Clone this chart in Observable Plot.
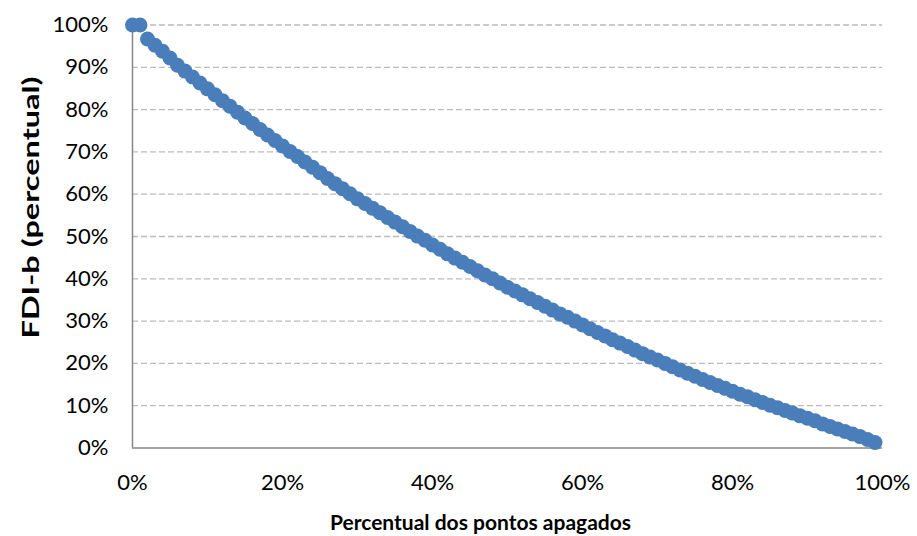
<!DOCTYPE html>
<html><head><meta charset="utf-8">
<script src="https://cdn.jsdelivr.net/npm/d3@7"></script>
<script src="https://cdn.jsdelivr.net/npm/@observablehq/plot@0.6"></script>
<style>body{margin:0;background:#fff}</style>
</head><body><div id="chart"></div>
<script>
// Percentual dos pontos apagados (x, %)
const pontosApagados = [
  0,1,2,3,4,5,6,7,8,9,10,11,12,13,14,15,16,17,18,19,
  20,21,22,23,24,25,26,27,28,29,30,31,32,33,34,35,36,37,38,39,
  40,41,42,43,44,45,46,47,48,49,50,51,52,53,54,55,56,57,58,59,
  60,61,62,63,64,65,66,67,68,69,70,71,72,73,74,75,76,77,78,79,
  80,81,82,83,84,85,86,87,88,89,90,91,92,93,94,95,96,97,98,99
];
// FDI-b (percentual) (y, %)
const fdiB = [
  100,100,96.7,95.2,93.8,92.2,90.5,89.1,87.7,86.3,84.9,83.5,82.1,80.8,79.4,78.0,76.7,75.3,74.0,72.7,
  71.4,70.1,68.9,67.6,66.4,65.1,63.7,62.5,61.3,60.1,58.9,57.8,56.7,55.6,54.5,53.4,52.3,51.2,50.1,49.1,
  48.0,47.0,45.9,44.9,43.9,42.9,41.9,40.9,40.0,39.0,38.0,37.1,36.2,35.3,34.4,33.5,32.6,31.7,30.9,30.0,
  29.1,28.2,27.3,26.5,25.6,24.8,24.0,23.15,22.3,21.5,20.8,20.0,19.2,18.45,17.7,16.95,16.2,15.5,14.8,14.1,
  13.4,12.7,12.1,11.4,10.75,10.1,9.5,8.85,8.25,7.6,7.05,6.45,5.7,5.1,4.5,3.9,3.3,2.7,2.0,1.3
];
const xTicks = [0,20,40,60,80,100];
const yTicks = [0,10,20,30,40,50,60,70,80,90,100];
const gridTicks = [10,20,30,40,50,60,70,80,90,100];
const yTitle = "FDI-b (percentual)";
const xTitle = "Percentual dos pontos apagados";

const data = pontosApagados.map((x, i) => ({x, y: fdiB[i]}));
const pct = d => d + "%";

const chart = Plot.plot({
  width: 917, height: 536,
  marginLeft: 132, marginRight: 35, marginTop: 24.5, marginBottom: 88.5,
  style: {fontFamily: "Lato, 'Open Sans', sans-serif", fontSize: "22px", color: "#000", background: "#fff"},
  x: {domain: [0, 100]},
  y: {domain: [0, 100]},
  marks: [
    Plot.ruleY(gridTicks, {stroke: "#bcbcbc", strokeDasharray: "6,3", strokeWidth: 1.3}),
    Plot.ruleX([0], {stroke: "#868686", strokeWidth: 1.5}),
    Plot.ruleY([0], {stroke: "#868686", strokeWidth: 1.5}),
    Plot.axisX({ticks: xTicks, tickFormat: pct, tickSize: 0, tickPadding: 26, label: null, fill: "#000"}),
    Plot.axisY({ticks: yTicks, tickFormat: pct, tickSize: 0, tickPadding: 24, label: null, fill: "#000"}),
    Plot.dot(data, {x: "x", y: "y", r: 7.5, fill: "#4a7ebb", stroke: "none"}),
    Plot.text([yTitle], {text: d => d, frameAnchor: "left", textAnchor: "middle", lineAnchor: "middle", dx: -101, dy: -29, rotate: -90, fontWeight: "bold", fontSize: 23, fill: "#000", className: "ytitle"}),
    Plot.text([xTitle], {text: d => d, frameAnchor: "bottom", textAnchor: "middle", lineAnchor: "middle", dx: -27, dy: 75.5, fontWeight: "bold", fontSize: 21, fill: "#000"})
  ]
});
d3.select(chart).select(".ytitle text").attr("textLength", 262).attr("lengthAdjust", "spacingAndGlyphs");
document.getElementById("chart").appendChild(chart);
</script>
</body></html>
